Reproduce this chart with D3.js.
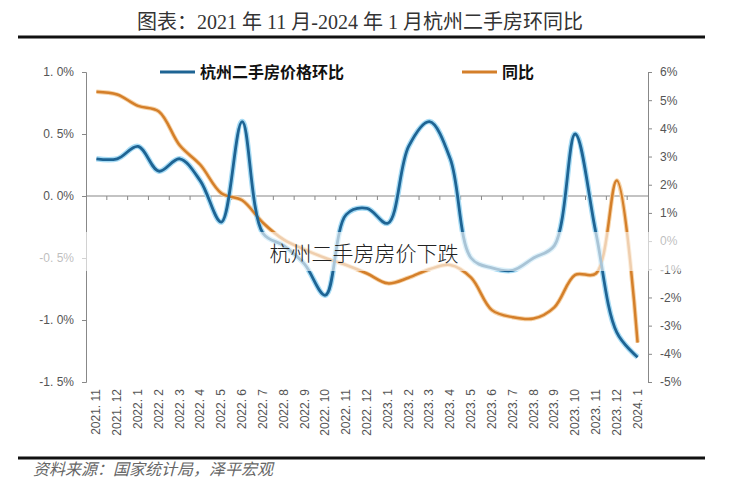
<!DOCTYPE html>
<meta charset="utf-8">
<style>
body { margin: 0; background: #fff; }
svg { display: block; }
.tick-lab { font: 12px "Liberation Sans", Arial, sans-serif; fill: #555; }
</style>
<body>
<svg width="729" height="490"></svg>
<script src="https://d3js.org/d3.v7.min.js"></script>
<script>

// months, Nov 2021 - Jan 2024
var months = ["2021.11","2021.12","2022.1","2022.2","2022.3","2022.4","2022.5","2022.6","2022.7",
  "2022.8","2022.9","2022.10","2022.11","2022.12","2023.1","2023.2","2023.3","2023.4","2023.5",
  "2023.6","2023.7","2023.8","2023.9","2023.10","2023.11","2023.12","2024.1"];

// month-on-month change, % (left axis)
var mom = [0.3, 0.3, 0.4, 0.2, 0.3, 0.12, -0.21, 0.6, -0.3, -0.4, -0.55, -0.8, -0.15, -0.1, -0.22,
  0.4, 0.6, 0.3, -0.5, -0.58, -0.6, -0.5, -0.4, 0.5, -0.3, -1.1, -1.3];

// year-on-year change, % (right axis)
var yoy = [5.3, 5.2, 4.8, 4.6, 3.4, 2.7, 1.7, 1.45, 0.65, 0.05, -0.3, -0.6, -0.85, -1.15, -1.5,
  -1.3, -1.0, -0.85, -1.3, -2.45, -2.7, -2.75, -2.35, -1.2, -1.15, 2.15, -3.6];

var leftTicks = [1.0, 0.5, 0.0, -0.5, -1.0, -1.5];
var rightTicks = [6, 5, 4, 3, 2, 1, 0, -1, -2, -3, -4, -5];

var svg = d3.select("svg");
var plotL = 86, plotR = 648, plotT = 72, plotB = 382;

var x = d3.scaleBand().domain(months).range([plotL, plotR]);
var yL = d3.scaleLinear().domain([-1.5, 1]).range([plotB, plotT]);
var yR = d3.scaleLinear().domain([-5, 6]).range([plotB, plotT]);
var cx = function(i) { return x(months[i]) + x.bandwidth() / 2; };

// title and rules
svg.append("text")
  .attr("x", 360).attr("y", 29)
  .attr("text-anchor", "middle")
  .style("font", "20px 'Liberation Serif', 'Noto Sans CJK SC', serif")
  .style("fill", "#333")
  .text("图表：2021 年 11 月-2024 年 1 月杭州二手房环同比");
svg.append("line").attr("x1", 18).attr("x2", 705).attr("y1", 37).attr("y2", 37)
  .style("stroke", "#111").style("stroke-width", 3);
svg.append("line").attr("x1", 18).attr("x2", 705).attr("y1", 458).attr("y2", 458)
  .style("stroke", "#111").style("stroke-width", 3);

svg.append("text")
  .attr("x", 33).attr("y", 475)
  .style("font", "italic 16px 'Noto Sans CJK SC', sans-serif")
  .style("fill", "#666")
  .text("资料来源：国家统计局，泽平宏观");

// left axis
var axL = svg.append("g").attr("transform", "translate(" + plotL + ",0)")
  .call(d3.axisLeft(yL).tickValues(leftTicks).tickSize(4).tickPadding(8)
    .tickFormat(function(d) { return d.toFixed(1).replace(".", ". ") + "%"; }));
axL.select(".domain").style("stroke", "#888");
axL.selectAll(".tick line").style("stroke", "#888");
axL.selectAll(".tick text").attr("class", "tick-lab").style("font-size", "12px");

// right axis
var axR = svg.append("g").attr("transform", "translate(" + plotR + ",0)")
  .call(d3.axisRight(yR).tickValues(rightTicks).tickSize(4).tickPadding(8)
    .tickFormat(function(d) { return d + "%"; }));
axR.select(".domain").style("stroke", "#888");
axR.selectAll(".tick line").style("stroke", "#888");
axR.selectAll(".tick text").attr("class", "tick-lab").style("font-size", "12px");

// zero line with category ticks
var y0 = yL(0);
svg.append("line").attr("x1", plotL).attr("x2", plotR).attr("y1", y0).attr("y2", y0)
  .style("stroke", "#888").style("stroke-width", 1.2);
svg.selectAll(".cat-tick")
  .data(months.slice(1))
  .enter().append("line")
    .attr("x1", function(d) { return x(d); }).attr("x2", function(d) { return x(d); })
    .attr("y1", y0).attr("y2", y0 + 4)
    .style("stroke", "#888");

// month labels at the bottom
svg.selectAll(".mlab")
  .data(months)
  .enter().append("text")
    .attr("class", "tick-lab")
    .attr("transform", function(d, i) { return "translate(" + (cx(i) + 4) + ",389) rotate(-90)"; })
    .attr("text-anchor", "end")
    .style("font-size", "12px")
    .text(function(d) { return d.replace(".", ". "); });

// lines
var lineL = d3.line().x(function(d, i) { return cx(i); }).y(function(d) { return yL(d); })
  .curve(d3.curveCatmullRom.alpha(0.5));
var lineR = d3.line().x(function(d, i) { return cx(i); }).y(function(d) { return yR(d); })
  .curve(d3.curveCatmullRom.alpha(0.5));

svg.append("path").datum(yoy).attr("d", lineR)
  .style("fill", "none").style("stroke", "#f6d3a8").style("stroke-width", 4.5);
svg.append("path").datum(mom).attr("d", lineL)
  .style("fill", "none").style("stroke", "#a8dcf5").style("stroke-width", 5.5);
svg.append("path").datum(yoy).attr("d", lineR)
  .style("fill", "none").style("stroke", "#d47f2a").style("stroke-width", 2.5);
svg.append("path").datum(mom).attr("d", lineL)
  .style("fill", "none").style("stroke", "#1e6494").style("stroke-width", 2.8);

// legend
var lg = [{name: "杭州二手房价格环比", c: "#1e6494", x: 160}, {name: "同比", c: "#d47f2a", x: 462}];
var leg = svg.selectAll(".leg").data(lg).enter().append("g")
  .attr("transform", function(d) { return "translate(" + d.x + ",72)"; });
leg.append("line").attr("x1", 0).attr("x2", 35).attr("y1", 0).attr("y2", 0)
  .style("stroke", function(d) { return d.c; }).style("stroke-width", 3);
leg.append("text").attr("x", 40).attr("y", 6)
  .style("font", "bold 16px 'Noto Sans CJK SC', sans-serif")
  .style("fill", "#111")
  .text(function(d) { return d.name; });

// white overlay band with caption
svg.append("rect").attr("x", 0).attr("y", 232).attr("width", 729).attr("height", 39)
  .style("fill", "#fff").style("opacity", 0.62);
svg.append("text")
  .attr("x", 364).attr("y", 261)
  .attr("text-anchor", "middle")
  .style("font", "300 21px 'Noto Sans CJK SC', sans-serif")
  .style("fill", "#222")
  .text("杭州二手房房价下跌");

</script>
</body>
